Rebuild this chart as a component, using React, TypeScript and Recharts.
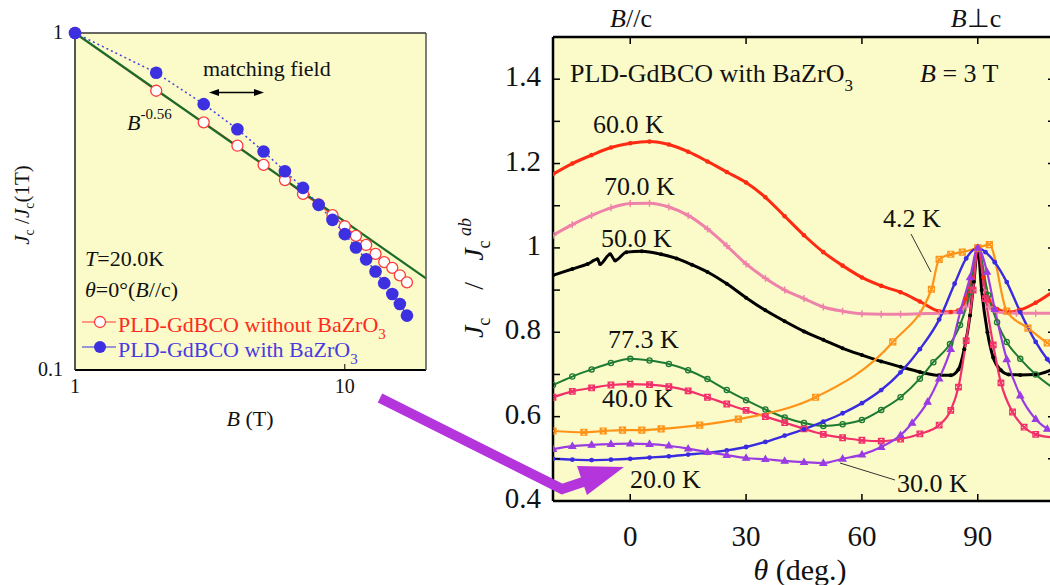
import React from 'react';
import { LineChart, Line, XAxis, YAxis, CartesianGrid } from 'recharts';

const FONT = '"Liberation Serif", "Times New Roman", Times, serif';
const BG = '#fafbc9';

// ---------- left panel: Jc/Jc(1T) vs B (log-log) ----------
const fieldB = [1, 2, 3, 4, 5, 6, 7, 8, 9, 10, 11, 12, 13, 14, 15, 16, 17];
const jcWithout = [1, 0.674, 0.543, 0.463, 0.406, 0.366, 0.333, 0.31, 0.288, 0.267, 0.25, 0.235, 0.221, 0.209, 0.201, 0.191, 0.182];
const jcWith = [1, 0.762, 0.615, 0.518, 0.445, 0.389, 0.347, 0.309, 0.279, 0.253, 0.231, 0.213, 0.196, 0.181, 0.168, 0.157, 0.145];
const fitB = [1, 20];
const fitJ = [1, 0.187];
const leftXTicks = [1, 10];
const leftYTicks = [0.1, 1];

// ---------- right panel: Jc/Jc^ab vs theta ----------
const thetaTicks = [0, 30, 60, 90];
const jcTicks = [0.4, 0.5, 0.6, 0.7, 0.8, 0.9, 1, 1.1, 1.2, 1.3, 1.4, 1.5];

const a60 = [-20, -15, -10, -5, 0, 5, 10, 15, 20, 25, 30, 35, 40, 45, 50, 55, 60, 65, 70, 75, 80, 83, 85, 87, 88.5, 90, 91.5, 93, 95, 98, 101, 105, 110];
const j60 = [1.175, 1.2, 1.22, 1.238, 1.248, 1.252, 1.245, 1.228, 1.205, 1.18, 1.155, 1.12, 1.075, 1.03, 0.99, 0.958, 0.93, 0.91, 0.895, 0.873, 0.85, 0.848, 0.852, 0.88, 0.93, 1.0, 0.93, 0.875, 0.855, 0.848, 0.853, 0.87, 0.9];

const a70 = [-20, -15, -10, -5, 0, 5, 10, 15, 20, 25, 30, 35, 40, 45, 50, 55, 60, 65, 70, 75, 80, 85, 87, 88.5, 90, 91.5, 93, 95, 100, 105, 110];
const j70 = [1.03, 1.055, 1.077, 1.095, 1.105, 1.106, 1.097, 1.077, 1.045, 1.005, 0.962, 0.928, 0.9, 0.88, 0.86, 0.85, 0.844, 0.843, 0.843, 0.844, 0.845, 0.848, 0.86, 0.9, 1.0, 0.9, 0.86, 0.848, 0.845, 0.845, 0.845];

const a50 = [-20, -15, -11, -8.5, -7.8, -5.2, -3.9, -1, 3, 8, 12, 16, 20, 25, 30, 35, 40, 45, 50, 55, 60, 65, 70, 75, 80, 83, 85, 86.5, 88, 89, 90, 91, 92.5, 94, 96, 98, 101, 105, 110];
const j50 = [0.935, 0.95, 0.962, 0.973, 0.962, 0.985, 0.97, 0.99, 0.992, 0.985, 0.975, 0.96, 0.943, 0.915, 0.882, 0.852, 0.826, 0.802, 0.782, 0.762, 0.746, 0.731, 0.718, 0.706, 0.698, 0.698, 0.712, 0.76, 0.84, 0.92, 1.0, 0.9, 0.8, 0.74, 0.71, 0.7, 0.699, 0.7, 0.715];

const a77 = [-20, -15, -10, -5, 0, 5, 10, 15, 20, 25, 30, 35, 40, 45, 50, 55, 60, 65, 70, 75, 78.5, 82.8, 85.4, 88, 90, 92.7, 95, 97.5, 101, 105, 110];
const j77 = [0.675, 0.695, 0.712, 0.727, 0.737, 0.733, 0.725, 0.71, 0.689, 0.663, 0.639, 0.617, 0.598, 0.585, 0.578, 0.582, 0.592, 0.616, 0.646, 0.69, 0.729, 0.772, 0.817, 0.895, 1.0, 0.888, 0.824, 0.777, 0.737, 0.7, 0.665];

const a40 = [-20, -15, -10, -5, 0, 5, 10, 15, 20, 25, 30, 35, 40, 45, 50, 55, 60, 65, 70, 75, 80, 83, 85, 87, 88.8, 90, 92, 94, 96, 99, 102, 105, 110];
const j40 = [0.646, 0.66, 0.668, 0.675, 0.677, 0.676, 0.671, 0.661, 0.646, 0.63, 0.615, 0.6, 0.586, 0.571, 0.558, 0.55, 0.544, 0.542, 0.547, 0.559, 0.58, 0.615, 0.67, 0.78, 0.9, 1.0, 0.88, 0.77, 0.68, 0.611, 0.575, 0.558, 0.55];

const a4 = [-20, -12, -7, -2, 3, 8, 18, 28, 48, 68, 78, 80, 83, 86, 90, 93, 97.5, 103, 108, 110];
const j4 = [0.566, 0.563, 0.566, 0.568, 0.568, 0.571, 0.58, 0.594, 0.646, 0.777, 0.902, 0.973, 0.985, 0.99, 1.0, 1.008, 0.85, 0.81, 0.775, 0.765];

const a20 = [-20, -15, -10, -5, 0, 5, 10, 15, 20, 25, 30, 35, 40, 45, 50, 55, 60, 65, 70, 75, 80, 84, 87, 90, 92, 94.4, 97.5, 101, 105, 108, 110];
const j20 = [0.5, 0.498, 0.497, 0.498, 0.5, 0.503, 0.506, 0.51, 0.514, 0.52, 0.528, 0.54, 0.555, 0.57, 0.588, 0.608, 0.632, 0.663, 0.705, 0.76, 0.83, 0.915, 0.975, 1.0, 0.99, 0.966, 0.919, 0.848, 0.777, 0.736, 0.715];

const a30 = [-20, -15, -10, -5, 0, 5, 10, 15, 20, 25, 30, 35, 40, 45, 50, 55, 60, 65, 70, 73, 77, 80, 83, 85.5, 88, 90, 92.4, 94.4, 97.5, 101, 105, 108, 110];
const j30 = [0.523, 0.53, 0.533, 0.535, 0.536, 0.535, 0.531, 0.524, 0.516, 0.509, 0.502, 0.499, 0.495, 0.492, 0.49, 0.5, 0.51, 0.528, 0.556, 0.585, 0.635, 0.69, 0.76, 0.85, 0.93, 1.0, 0.943, 0.855, 0.736, 0.65, 0.594, 0.571, 0.56];

const pts = (xs: number[], ys: number[]) => xs.map((x, i) => ({ x, y: ys[i] }));

type Shape = 'dot' | 'ocircle' | 'plus' | 'sqx' | 'tri';
const makeDot = (shape: Shape, color: string, s: number, fill?: string) => (p: any) => {
  const { cx, cy, index } = p;
  const k = `d${index}`;
  if (cx == null || cy == null || isNaN(cx) || isNaN(cy)) return <g key={k} />;
  switch (shape) {
    case 'dot':
      return <circle key={k} cx={cx} cy={cy} r={s} fill={color} />;
    case 'ocircle':
      return <circle key={k} cx={cx} cy={cy} r={s} fill={fill ?? 'none'} stroke={color} strokeWidth={1.3} />;
    case 'plus':
      return <path key={k} d={`M${cx - s},${cy}h${2 * s}M${cx},${cy - s}v${2 * s}`} stroke={color} strokeWidth={1.4} />;
    case 'sqx':
      return (
        <path
          key={k}
          d={`M${cx - s},${cy - s}h${2 * s}v${2 * s}h${-2 * s}zM${cx - s},${cy - s}L${cx + s},${cy + s}M${cx + s},${cy - s}L${cx - s},${cy + s}`}
          fill="none"
          stroke={color}
          strokeWidth={1.2}
        />
      );
    case 'tri':
    default:
      return (
        <path
          key={k}
          d={`M${cx},${cy - s}L${cx + s * 0.95},${cy + s * 0.65}L${cx - s * 0.95},${cy + s * 0.65}z`}
          fill={fill ?? 'none'}
          stroke={color}
          strokeWidth={1.2}
        />
      );
  }
};

const rightSeries = [
  { id: '60', data: pts(a60, j60), color: '#ff2a12', w: 3, dot: makeDot('dot', '#ff2a12', 2.3) },
  { id: '70', data: pts(a70, j70), color: '#ee82a9', w: 3, dot: makeDot('plus', '#ee82a9', 3.5) },
  { id: '50', data: pts(a50, j50), color: '#000000', w: 3, dot: makeDot('dot', '#000000', 2) },
  { id: '77', data: pts(a77, j77), color: '#1e7a32', w: 2, dot: makeDot('ocircle', '#1e7a32', 2.6) },
  { id: '40', data: pts(a40, j40), color: '#f2306a', w: 2.2, dot: makeDot('sqx', '#f2306a', 2.8) },
  { id: '4', data: pts(a4, j4), color: '#ff9318', w: 2.2, dot: makeDot('sqx', '#ff9318', 3) },
  { id: '20', data: pts(a20, j20), color: '#3a2be0', w: 2.4, dot: makeDot('dot', '#3a2be0', 2.4) },
  { id: '30', data: pts(a30, j30), color: '#9a3ce2', w: 2.2, dot: makeDot('tri', '#9a3ce2', 3.5, '#9a3ce2') },
];

const leftWithout = pts(fieldB, jcWithout);
const leftWith = pts(fieldB, jcWith);
const leftFit = pts(fitB, fitJ);

// ---------- tick renderers ----------
const Empty = () => <g />;

const RightYTick = (p: any) => {
  const v = p.payload.value as number;
  const r = Math.round(v * 10);
  if (r % 2 !== 0 || r > 14) return <g />;
  const label = r === 10 ? '1' : (r / 10).toFixed(1);
  return (
    <text x={541} y={p.y + 7} textAnchor="end" fontFamily={FONT} fontSize={29} fill="#111">
      {label}
    </text>
  );
};

const RightXTick = (p: any) => (
  <text x={p.x} y={546} textAnchor="middle" fontFamily={FONT} fontSize={29} fill="#111">
    {String(p.payload.value)}
  </text>
);

const LeftYTick = (p: any) => (
  <text x={63} y={p.y + 6} textAnchor="end" fontFamily={FONT} fontSize={20} fill="#111">
    {String(p.payload.value)}
  </text>
);

const LeftXTick = (p: any) => (
  <text x={p.x} y={393} textAnchor="middle" fontFamily={FONT} fontSize={20} fill="#111">
    {String(p.payload.value)}
  </text>
);

const LeftPanel = () => (
  <LineChart width={440} height={440} margin={{ top: 32, right: 13, left: 0, bottom: 0 }}>
    <CartesianGrid horizontal={false} vertical={false} fill={BG} stroke="none" />
    <XAxis
      xAxisId="b"
      type="number"
      dataKey="x"
      scale="log"
      domain={[1, 20]}
      ticks={leftXTicks}
      height={70}
      interval={0}
      tickSize={-6}
      tickLine={{ stroke: '#000', strokeWidth: 1 }}
      axisLine={{ stroke: '#000', strokeWidth: 2 }}
      tick={LeftXTick}
    />
    <XAxis
      xAxisId="t"
      orientation="top"
      type="number"
      dataKey="x"
      scale="log"
      domain={[1, 20]}
      ticks={leftXTicks}
      height={1}
      interval={0}
      tickSize={-6}
      tickLine={{ stroke: '#222', strokeWidth: 1 }}
      axisLine={{ stroke: '#333', strokeWidth: 1.5 }}
      tick={Empty}
    />
    <YAxis
      yAxisId="l"
      type="number"
      dataKey="y"
      scale="log"
      domain={[0.1, 1]}
      ticks={leftYTicks}
      width={75}
      interval={0}
      tickSize={-6}
      tickLine={{ stroke: '#000', strokeWidth: 1 }}
      axisLine={{ stroke: '#555', strokeWidth: 2 }}
      tick={LeftYTick}
    />
    <YAxis
      yAxisId="r"
      orientation="right"
      type="number"
      dataKey="y"
      scale="log"
      domain={[0.1, 1]}
      ticks={leftYTicks}
      width={1}
      interval={0}
      tickSize={-6}
      tickLine={{ stroke: '#222', strokeWidth: 1 }}
      axisLine={{ stroke: '#555', strokeWidth: 1.5 }}
      tick={Empty}
    />
    <Line
      xAxisId="b"
      yAxisId="l"
      data={leftWithout}
      dataKey="y"
      type="linear"
      stroke="#ff3a3a"
      strokeWidth={1.2}
      dot={false}
      activeDot={false}
      isAnimationActive={false}
    />
    <Line
      xAxisId="b"
      yAxisId="l"
      data={leftFit}
      dataKey="y"
      type="linear"
      stroke="#1c6b2a"
      strokeWidth={2.2}
      dot={false}
      activeDot={false}
      isAnimationActive={false}
    />
    <Line
      xAxisId="b"
      yAxisId="l"
      data={leftWithout}
      dataKey="y"
      type="linear"
      stroke="none"
      dot={makeDot('ocircle', '#ff3a3a', 5.5, '#ffffff')}
      activeDot={false}
      isAnimationActive={false}
    />
    <Line
      xAxisId="b"
      yAxisId="l"
      data={leftWith}
      dataKey="y"
      type="linear"
      stroke="#4a3fe6"
      strokeWidth={1.5}
      strokeDasharray="2 3"
      dot={makeDot('dot', '#3d30e0', 6.3)}
      activeDot={false}
      isAnimationActive={false}
    />
  </LineChart>
);

const RightPanel = () => (
  <LineChart width={1070} height={585} margin={{ top: 36, right: 14, left: 0, bottom: 0 }}>
    <CartesianGrid horizontal={false} vertical={false} fill={BG} stroke="none" />
    <XAxis
      xAxisId="b"
      type="number"
      dataKey="x"
      domain={[-20, 110]}
      ticks={thetaTicks}
      allowDataOverflow
      height={84}
      interval={0}
      tickSize={-7}
      tickLine={{ stroke: '#000', strokeWidth: 1.5 }}
      axisLine={{ stroke: '#000', strokeWidth: 2.5 }}
      tick={RightXTick}
    />
    <XAxis
      xAxisId="t"
      orientation="top"
      type="number"
      dataKey="x"
      domain={[-20, 110]}
      ticks={thetaTicks}
      allowDataOverflow
      height={1}
      interval={0}
      tickSize={-7}
      tickLine={{ stroke: '#000', strokeWidth: 1.5 }}
      axisLine={{ stroke: '#000', strokeWidth: 2.5 }}
      tick={Empty}
    />
    <YAxis
      yAxisId="l"
      type="number"
      dataKey="y"
      domain={[0.4, 1.5]}
      ticks={jcTicks}
      allowDataOverflow
      width={553}
      interval={0}
      tickSize={-7}
      tickLine={{ stroke: '#000', strokeWidth: 1.5 }}
      axisLine={{ stroke: '#000', strokeWidth: 2.5 }}
      tick={RightYTick}
    />
    <YAxis
      yAxisId="r"
      orientation="right"
      type="number"
      dataKey="y"
      domain={[0.4, 1.5]}
      ticks={jcTicks}
      allowDataOverflow
      width={1}
      interval={0}
      tickSize={-7}
      tickLine={{ stroke: '#000', strokeWidth: 1.5 }}
      axisLine={{ stroke: '#000', strokeWidth: 2.5 }}
      tick={Empty}
    />
    {rightSeries.map((s) => (
      <Line
        key={s.id}
        xAxisId="b"
        yAxisId="l"
        data={s.data}
        dataKey="y"
        type="monotone"
        stroke={s.color}
        strokeWidth={s.w}
        dot={s.dot}
        activeDot={false}
        isAnimationActive={false}
      />
    ))}
  </LineChart>
);

const Overlay = () => (
  <svg
    width={1050}
    height={585}
    style={{ position: 'absolute', left: 0, top: 0, pointerEvents: 'none' }}
    fontFamily={FONT}
  >
    {/* ----- left panel annotations ----- */}
    <text x={203} y={76} fontSize={22} fill="#111">matching field</text>
    <line x1={216} y1={92.5} x2={257} y2={92.5} stroke="#000" strokeWidth={1.3} />
    <path d="M209,92.5 l10,-3.5 v7 z" fill="#000" />
    <path d="M264,92.5 l-10,-3.5 v7 z" fill="#000" />
    <text x={127} y={130} fontSize={22} fill="#111">
      <tspan fontStyle="italic">B</tspan>
      <tspan fontSize={15} dy={-11}>-0.56</tspan>
    </text>
    <text x={85} y={266} fontSize={22} fill="#111">
      <tspan fontStyle="italic">T</tspan>=20.0K
    </text>
    <text x={85} y={297} fontSize={22} fill="#111">
      <tspan fontStyle="italic">θ</tspan>=0°(<tspan fontStyle="italic">B</tspan>//c)
    </text>
    {/* legend */}
    <line x1={82} y1={322} x2={116} y2={322} stroke="#ff3a3a" strokeWidth={1.2} />
    <circle cx={100} cy={322} r={5.5} fill="#fff" stroke="#ff3a3a" strokeWidth={1.3} />
    <text x={118} y={332} fontSize={22} fill="#ff2a20">
      PLD-GdBCO without BaZrO<tspan fontSize={15} dy={7}>3</tspan>
    </text>
    <line x1={82} y1={347} x2={116} y2={347} stroke="#3d30e0" strokeWidth={1.2} />
    <circle cx={100} cy={347} r={6} fill="#3d30e0" />
    <text x={118} y={357} fontSize={22} fill="#4a3ae0">
      PLD-GdBCO with BaZrO<tspan fontSize={15} dy={7}>3</tspan>
    </text>
    {/* axis labels */}
    <text x={250} y={426} fontSize={22} textAnchor="middle" fill="#111">
      <tspan fontStyle="italic">B</tspan> (T)
    </text>
    <text transform="rotate(-90)" x={-205} y={29} fontSize={21} textAnchor="middle" fill="#111" style={{ whiteSpace: 'pre' }}>
      <tspan fontStyle="italic">J</tspan>
      <tspan fontSize={14} dy={5}>c</tspan>
      <tspan dy={-5}>{' /'}</tspan>
      <tspan fontStyle="italic">J</tspan>
      <tspan fontSize={14} dy={5}>c</tspan>
      <tspan dy={-5}>(1T)</tspan>
    </text>

    {/* ----- arrow between panels ----- */}
    <polyline points="380,398 562,489 586,481" fill="none" stroke="#b535dc" strokeWidth={10} strokeLinejoin="miter" />
    <path d="M577,466 L624,467 L587,495 Z" fill="#b535dc" />

    {/* ----- right panel annotations ----- */}
    <text x={631} y={27} fontSize={26} textAnchor="middle" fill="#111">
      <tspan fontStyle="italic">B</tspan>//c
    </text>
    <text x={976} y={27} fontSize={26} textAnchor="middle" fill="#111">
      <tspan fontStyle="italic">B</tspan>⊥c
    </text>
    <text x={570} y={82} fontSize={26} fill="#111">
      PLD-GdBCO with BaZrO<tspan fontSize={17} dy={9}>3</tspan>
    </text>
    <text x={920} y={82} fontSize={26} fill="#111">
      <tspan fontStyle="italic">B</tspan> = 3 T
    </text>
    <text x={593} y={133} fontSize={26} fill="#111">60.0 K</text>
    <text x={604} y={195} fontSize={26} fill="#111">70.0 K</text>
    <text x={601} y={247} fontSize={26} fill="#111">50.0 K</text>
    <text x={608} y={348} fontSize={26} fill="#111">77.3 K</text>
    <text x={602} y={407} fontSize={26} fill="#111">40.0 K</text>
    <text x={630} y={488} fontSize={26} fill="#111">20.0 K</text>
    <text x={897} y={492} fontSize={26} fill="#111">30.0 K</text>
    <text x={883} y={227} fontSize={26} fill="#111">4.2 K</text>
    <line x1={840} y1={463} x2={895} y2={480} stroke="#333" strokeWidth={1} />
    <line x1={911} y1={234} x2={931} y2={272} stroke="#333" strokeWidth={1} />
    <text x={800} y={580} fontSize={30} textAnchor="middle" fill="#111">
      <tspan fontStyle="italic">θ</tspan> (deg.)
    </text>
    <text transform="rotate(-90)" x={-278} y={483} fontSize={28} textAnchor="middle" fill="#111" style={{ whiteSpace: 'pre' }}>
      <tspan fontStyle="italic">J</tspan>
      <tspan fontSize={18} dy={7}>c</tspan>
      <tspan dy={-7}>{'    /   '}</tspan>
      <tspan fontStyle="italic">J</tspan>
      <tspan fontSize={18} dy={7}>c</tspan>
      <tspan fontSize={18} fontStyle="italic" dy={-19}>{' ab'}</tspan>
    </text>
  </svg>
);

export default function App() {
  return (
    <div
      style={{
        position: 'absolute',
        left: 0,
        top: 0,
        width: 1050,
        height: 585,
        overflow: 'hidden',
        background: '#ffffff',
        fontFamily: FONT,
      }}
    >
      <div style={{ position: 'absolute', left: 0, top: 0 }}>
        <RightPanel />
      </div>
      <div style={{ position: 'absolute', left: 0, top: 0 }}>
        <LeftPanel />
      </div>
      <Overlay />
    </div>
  );
}
